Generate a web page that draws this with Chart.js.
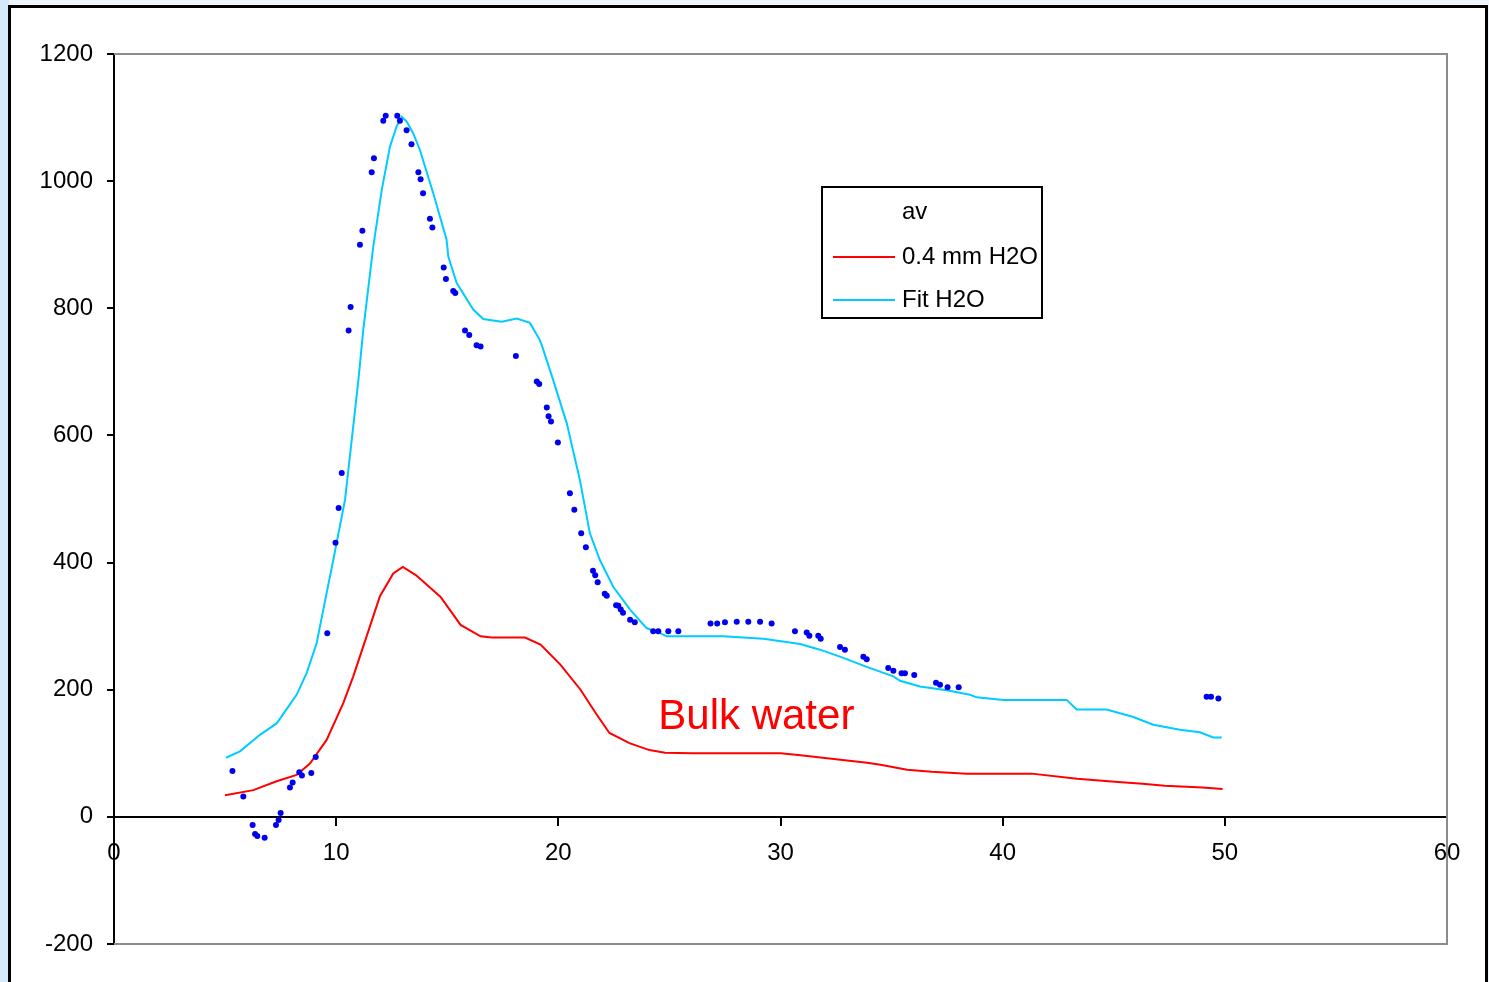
<!DOCTYPE html>
<html>
<head>
<meta charset="utf-8">
<script src="https://cdn.jsdelivr.net/npm/chart.js@4.4.1/dist/chart.umd.min.js"></script>
<style>
    body { margin: 0; background: #eef5fb; }
    #grafico { display: block; }
</style>
</head>
<body>
<canvas id="grafico" width="1489" height="982"></canvas>
<script>

// pontos medidos (av)
const avX = [5.33, 5.82, 6.24, 6.35, 6.45, 6.78, 7.29, 7.41, 7.50, 7.92, 8.04, 8.34, 8.46, 8.88, 9.08, 9.60,
    9.97, 10.11, 10.25, 10.56, 10.65, 11.07, 11.18, 11.60, 11.70, 12.12, 12.23, 12.75, 12.87, 13.17, 13.39,
    13.70, 13.80, 13.91, 14.22, 14.33, 14.84, 14.94, 15.27, 15.36, 15.80, 15.99, 16.32, 16.50, 18.09, 19.03,
    19.14, 19.48, 19.56, 19.67, 19.98, 20.52, 20.72, 21.03, 21.24, 21.56, 21.66, 21.77, 22.09, 22.18, 22.60,
    22.70, 22.81, 22.91, 23.23, 23.44, 24.27, 24.50, 24.95, 25.40, 26.85, 27.15, 27.50, 28.03, 28.55, 29.08,
    29.60, 30.65, 31.18, 31.30, 31.70, 31.81, 32.68, 32.90, 33.73, 33.88, 34.85, 35.08, 35.45, 35.60, 36.02,
    37.00, 37.18, 37.52, 38.02, 49.18, 49.38, 49.71];
const avY = [72, 32, -13, -27, -30, -33, -13, -5, 6, 46, 54, 70, 65, 69, 94, 289,
    431, 486, 541, 765, 802, 900, 922, 1014, 1036, 1095, 1103, 1103, 1095, 1080, 1058,
    1014, 1003, 981, 941, 927, 864, 846, 827, 824, 765, 758, 742, 740, 725, 685,
    681, 644, 630, 622, 589, 509, 483, 446, 424, 387, 380, 369, 351, 348, 333,
    332, 326, 321, 310, 306, 292, 292, 292, 292, 304, 304, 306, 307, 307, 307,
    304, 292, 290, 285, 285, 280, 267, 263, 252, 248, 234, 230, 226, 226, 223,
    211, 208, 204, 204, 189, 189, 186];

// 0.4 mm H2O
const redX = [5.0, 6.27, 7.32, 8.22, 8.82, 9.57, 10.32, 10.77, 11.37, 11.97, 12.57, 13.0, 13.6, 14.7, 15.6,
    16.5, 17.0, 18.5, 19.2, 20.1, 21.0, 21.65, 22.3, 23.2, 24.1, 24.8, 26, 28, 30, 30.9, 32.7, 33.9, 34.5,
    35.7, 36.8, 38.4, 41.3, 43.35, 45.2, 46.3, 47.3, 49.0, 49.9];
const redY = [34, 42, 56, 66, 84, 121, 179, 221, 284, 347, 383, 393, 380, 346, 302,
    284, 282, 282, 271, 239, 200, 165, 132, 116, 105, 101, 100, 100, 100, 97, 90, 85, 82,
    74, 71, 68, 68, 60, 55, 52, 49, 46, 44];

// Fit H2O
const fitX = [5.04, 5.67, 6.57, 7.32, 8.22, 8.67, 9.12, 9.57, 9.87, 10.4, 11.0, 11.22, 11.67, 12.05, 12.42,
    12.72, 12.95, 13.17, 13.47, 13.77, 14.37, 14.97, 15.05, 15.42, 16.17, 16.62, 17.45, 18.13, 18.72, 19.17,
    19.32, 19.77, 20.38, 20.97, 21.42, 21.87, 22.47, 23.23, 23.97, 24.58, 24.88, 27.43, 29.23, 30.88, 31.78,
    32.83, 33.88, 35.08, 35.38, 36.28, 37.48, 38.53, 38.83, 40.03, 42.88, 43.33, 44.68, 45.88, 46.78, 47.98,
    48.88, 49.48, 49.86];
const fitY = [93, 103, 129, 147, 192, 226, 273, 352, 404, 499, 687, 766, 897, 986, 1054,
    1086, 1101, 1094, 1075, 1049, 981, 908, 881, 840, 798, 783, 779, 784, 777, 750,
    735, 687, 619, 530, 446, 404, 362, 326, 297, 289, 284, 284, 280, 272, 263,
    250, 236, 221, 214, 205, 199, 192, 188, 184, 184, 169, 169, 157, 145, 137,
    133, 125, 125];

const xTicks = [0, 10, 20, 30, 40, 50, 60];
const yTicks = [-200, 0, 200, 400, 600, 800, 1000, 1200];

const nomes = ['av', '0.4 mm H2O', 'Fit H2O'];
const fonte = "'Liberation Sans', Arial, sans-serif";

function juntar(xs, ys) {
    let pontos = [];
    for (let i = 0; i < xs.length; i++) {
        pontos.push({ x: xs[i], y: ys[i] });
    }
    return pontos;
}

const fundoPlugin = {
    id: 'fundo',
    beforeDraw(chart) {
        const ctx = chart.ctx;
        ctx.save();
        ctx.fillStyle = '#eef5fb';
        ctx.fillRect(0, 0, chart.width, chart.height);
        ctx.fillStyle = '#d4eafa';
        ctx.fillRect(0, 0, 9, chart.height);
        ctx.fillStyle = '#ffffff';
        ctx.fillRect(9, 6, 1478, chart.height);
        ctx.strokeStyle = '#000000';
        ctx.lineWidth = 3;
        ctx.strokeRect(9.5, 6.5, 1477, chart.height + 10);
        ctx.restore();
    },
    beforeDatasetsDraw(chart) {
        const a = chart.chartArea;
        const ctx = chart.ctx;
        ctx.save();
        ctx.strokeStyle = '#8c8c8c';
        ctx.lineWidth = 2;
        ctx.beginPath();
        ctx.moveTo(a.left, a.top);
        ctx.lineTo(a.right, a.top);
        ctx.lineTo(a.right, a.bottom);
        ctx.lineTo(a.left, a.bottom);
        ctx.stroke();
        ctx.restore();
    },
    afterDraw(chart) {
        const ctx = chart.ctx;
        ctx.save();
        // legenda
        ctx.fillStyle = '#ffffff';
        ctx.fillRect(822, 187, 220, 131);
        ctx.strokeStyle = '#000000';
        ctx.lineWidth = 2;
        ctx.strokeRect(822, 187, 220, 131);
        ctx.font = '24px ' + fonte;
        ctx.textBaseline = 'middle';
        const linhasY = [212, 257, 300];
        chart.data.datasets.forEach(function (ds, i) {
            if (ds.showLine) {
                ctx.strokeStyle = ds.borderColor;
                ctx.lineWidth = 2;
                ctx.beginPath();
                ctx.moveTo(833, linhasY[i]);
                ctx.lineTo(895, linhasY[i]);
                ctx.stroke();
            }
            ctx.fillStyle = '#000000';
            ctx.fillText(ds.label, 902, linhasY[i]);
        });
        // anotacao
        const sx = chart.scales.x;
        const sy = chart.scales.y;
        ctx.fillStyle = '#ff0000';
        ctx.font = '42px ' + fonte;
        ctx.fillText('Bulk water', sx.getPixelForValue(24.5), sy.getPixelForValue(157));
        ctx.restore();
    }
};

function plotarGrafico() {
    const dados = {
        datasets: [{
            label: nomes[0],
            data: juntar(avX, avY),
            showLine: false,
            backgroundColor: '#0000ee',
            borderColor: '#0000ee',
            pointRadius: 3,
            pointBorderWidth: 0
        }, {
            label: nomes[1],
            data: juntar(redX, redY),
            showLine: true,
            borderColor: '#ff0000',
            borderWidth: 2,
            pointRadius: 0,
            tension: 0
        }, {
            label: nomes[2],
            data: juntar(fitX, fitY),
            showLine: true,
            borderColor: '#00ccff',
            borderWidth: 2,
            pointRadius: 0,
            tension: 0
        }]
    };

    const configGrafico = {
        type: 'scatter',
        data: dados,
        options: {
            responsive: false,
            animation: false,
            devicePixelRatio: 1,
            layout: { padding: { top: 54, bottom: 38, right: 42, left: 0 } },
            plugins: {
                legend: { display: false },
                tooltip: { enabled: false }
            },
            scales: {
                x: {
                    type: 'linear',
                    position: { y: 0 },
                    min: 0,
                    max: 60,
                    afterBuildTicks: function (scale) {
                        scale.ticks = xTicks.map(function (v) { return { value: v }; });
                    },
                    border: { color: '#000000', width: 2 },
                    grid: { drawOnChartArea: false, color: '#000000', tickLength: 8, lineWidth: 2 },
                    ticks: {
                        color: '#000000', font: { family: fonte, size: 24 }, padding: 14, maxRotation: 0,
                        callback: function (v) { return String(v); }
                    }
                },
                y: {
                    type: 'linear',
                    min: -200,
                    max: 1200,
                    afterBuildTicks: function (scale) {
                        scale.ticks = yTicks.map(function (v) { return { value: v }; });
                    },
                    afterFit: function (scale) {
                        scale.width = 114;
                    },
                    border: { color: '#000000', width: 2 },
                    grid: { drawOnChartArea: false, color: '#000000', tickLength: 7, lineWidth: 2 },
                    ticks: {
                        color: '#000000', font: { family: fonte, size: 24 }, padding: 14,
                        callback: function (v) { return String(v); }
                    }
                }
            }
        },
        plugins: [fundoPlugin]
    };

    let grafico = new Chart(document.getElementById('grafico'), configGrafico);
}

plotarGrafico();
</script>
</body>
</html>
